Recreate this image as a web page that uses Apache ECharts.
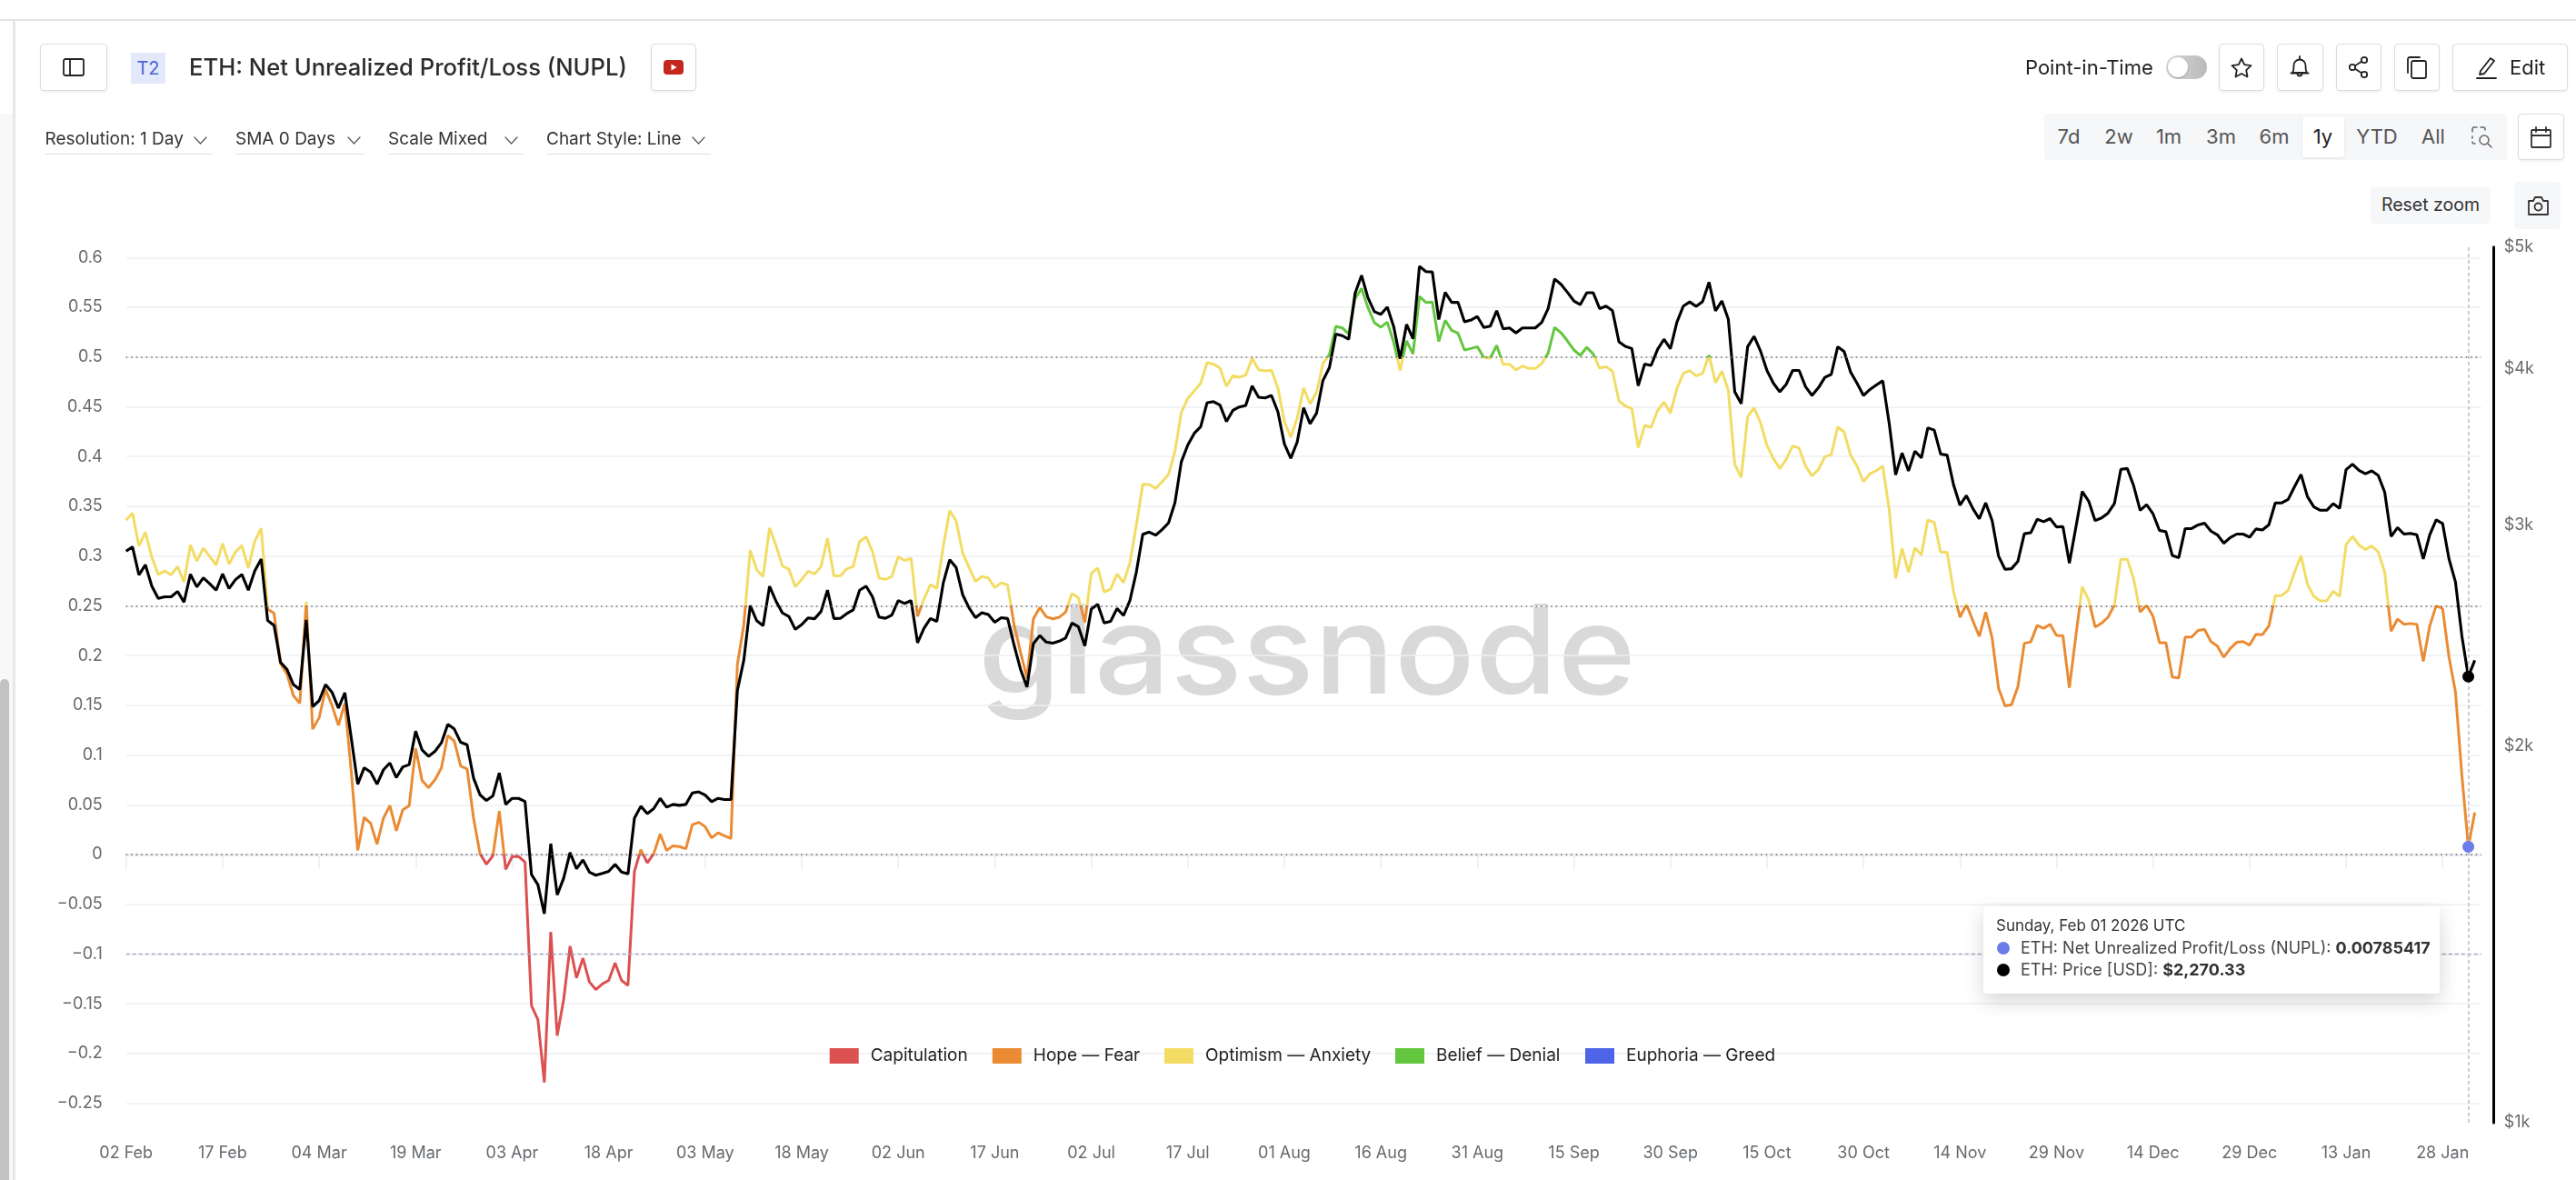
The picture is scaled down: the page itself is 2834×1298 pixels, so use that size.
<!DOCTYPE html>
<html>
<head>
<meta charset="utf-8">
<title>ETH: Net Unrealized Profit/Loss (NUPL)</title>
<script src="https://cdn.jsdelivr.net/npm/echarts@6/dist/echarts.min.js"></script>
<style>
html,body{margin:0;padding:0;background:#fff;width:2834px;height:1298px;overflow:hidden;font-family:Inter,sans-serif}
#chart{position:absolute;left:0;top:0;width:2834px;height:1298px}
.t{position:absolute;white-space:nowrap;transform:translateY(-50%);line-height:1.2}
.b{position:absolute;box-sizing:border-box;background:#fff}
.btn{border:1.5px solid #dcdcdc;border-radius:4px;box-shadow:0 2px 3px rgba(0,0,0,.05)}
svg.i{position:absolute;overflow:visible;fill:none;stroke:#222;stroke-width:1.8;stroke-linecap:round;stroke-linejoin:round}
</style>
</head>
<body>
<div id="chart"></div>
<div id="ui"></div>
<script>
// ---------- data ----------
const startDate = '2025-02-02';
const dayCount = 367; // 366 daily readings plus one empty day at the right edge

const nuplValues = [
.336,.343,.310,.324,.299,.2815,.285,.281,.2895,.274,
.311,.295,.308,.2996,.291,.3126,.292,.304,.3105,.288,
.315,.328,.2466,.2424,.192,.1815,.1597,.152,.254,.126,
.1374,.166,.150,.130,.152,.083,.0042,.0374,.0315,.0105,
.0366,.0492,.024,.045,.049,.1067,.0744,.0672,.0752,.087,
.1197,.114,.089,.086,.0366,.001,-.0097,-.0013,.0437,-.015,
-.002,-.002,-.0076,-.1517,-.166,-.229,-.0777,-.182,-.146,-.092,
-.124,-.104,-.128,-.1357,-.130,-.1265,-.109,-.1265,-.1315,-.017,
.005,-.0084,.0008,.0206,.0042,.0088,.008,.0059,.030,.0324,
.028,.0168,.0218,.0189,.0161,.191,.231,.306,.2862,.2795,
.3283,.3106,.290,.2868,.2692,.2765,.2847,.282,.2893,.318,
.280,.280,.2871,.2896,.3146,.3194,.3045,.278,.2765,.2795,
.2993,.2954,.2978,.2393,.2567,.2713,.2674,.310,.3456,.3353,
.3033,.2887,.2744,.2795,.278,.2683,.2731,.271,.231,.2034,
.1775,.2369,.2482,.239,.2369,.2384,.2436,.2625,.2582,.2333,
.2826,.288,.264,.2667,.282,.2734,.2932,.331,.372,.3718,
.3679,.3746,.382,.405,.4447,.4584,.466,.4736,.4943,.493,
.4888,.4705,.4812,.4797,.4818,.4989,.4873,.486,.4867,.469,
.4355,.4194,.4386,.469,.4529,.4644,.4934,.5025,.5308,.5293,
.5232,.5588,.5689,.5497,.5345,.530,.5351,.5147,.4864,.5162,
.5031,.561,.5549,.5552,.5156,.5369,.5269,.5238,.5071,.5086,
.5104,.4995,.4989,.5117,.4928,.4928,.487,.4909,.4885,.4885,
.4934,.504,.5299,.5244,.5162,.5071,.5016,.5098,.5031,.4888,
.4903,.4858,.4559,.4507,.4483,.409,.4312,.4294,.4461,.4547,
.4437,.4681,.4836,.4864,.4812,.4836,.5019,.4742,.4858,.4665,
.3921,.3792,.4399,.449,.434,.4113,.398,.3879,.3973,.4106,
.4085,.3904,.3806,.3869,.3998,.4019,.4298,.4246,.4015,.3904,
.3747,.3827,.3858,.3904,.3467,.2776,.3076,.2839,.3083,.301,
.3362,.3338,.3038,.3038,.2647,.2385,.2514,.235,.2193,.2437,
.2175,.1669,.1494,.1505,.1686,.2123,.2137,.2304,.2273,.2315,
.2203,.22,.1676,.2193,.2692,.2559,.2287,.2325,.2385,.2507,
.2968,.2968,.2769,.2437,.2507,.2395,.213,.213,.1784,.1774,
.2186,.2186,.2252,.2263,.214,.2095,.1983,.2071,.2133,.214,
.2105,.2214,.221,.2297,.2601,.2605,.2654,.2839,.3003,.2716,
.2594,.2549,.2549,.2647,.2594,.3115,.3198,.3111,.3066,.3101,
.3041,.2839,.2245,.2367,.2315,.2322,.2315,.1941,.2297,.25,
.2472,.1983,.1634,.0796,.00785417,.0422
];

const priceValues = [
2859,2881,2737,2788,2681,2621,2629,2629,2655,2603,
2740,2677,2722,2693,2661,2742,2669,2713,2739,2661,
2757,2818,2517,2494,2331,2301,2237,2217,2520,2148,
2172,2237,2206,2143,2204,2027,1863,1920,1905,1863,
1913,1937,1886,1923,1931,2054,1984,1961,1979,2010,
2080,2062,2012,2003,1884,1827,1808,1823,1902,1795,
1815,1815,1805,1578,1549,1468,1670,1520,1567,1643,
1595,1621,1585,1576,1581,1587,1608,1585,1580,1750,
1789,1765,1781,1815,1786,1795,1792,1795,1833,1837,
1826,1804,1815,1811,1811,2213,2340,2587,2516,2493,
2680,2608,2552,2536,2476,2498,2529,2525,2559,2661,
2526,2527,2549,2566,2661,2681,2629,2533,2527,2542,
2611,2597,2610,2416,2481,2526,2513,2697,2814,2774,
2640,2576,2530,2553,2545,2509,2530,2526,2406,2301,
2227,2412,2448,2419,2414,2423,2437,2505,2488,2402,
2570,2593,2506,2513,2573,2540,2611,2751,2949,2961,
2944,2974,3011,3125,3370,3475,3550,3594,3756,3763,
3739,3628,3703,3726,3737,3873,3793,3789,3806,3693,
3483,3391,3494,3721,3613,3683,3912,4005,4260,4248,
4220,4593,4746,4554,4439,4418,4478,4318,4072,4337,
4224,4826,4779,4776,4376,4600,4516,4516,4358,4372,
4400,4313,4323,4447,4302,4309,4269,4309,4309,4309,
4353,4465,4715,4669,4600,4528,4498,4597,4597,4465,
4485,4447,4200,4165,4149,3875,4032,4022,4142,4220,
4148,4353,4485,4520,4483,4523,4687,4447,4528,4377,
3831,3749,4163,4243,4130,3985,3893,3831,3885,3985,
3985,3868,3806,3860,3935,3957,4163,4125,3974,3893,
3806,3848,3880,3910,3616,3290,3424,3313,3436,3394,
3586,3571,3417,3411,3230,3111,3166,3092,3034,3124,
3024,2832,2765,2768,2806,2952,2957,3032,3018,3035,
2989,2991,2797,2985,3190,3134,3024,3039,3066,3120,
3323,3328,3223,3082,3114,3062,2970,2963,2836,2825,
2980,2980,3000,3010,2966,2946,2901,2931,2950,2950,
2933,2978,2972,3001,3124,3124,3144,3219,3292,3160,
3101,3082,3082,3120,3093,3321,3354,3317,3296,3313,
3286,3187,2937,2985,2950,2954,2946,2818,2946,3028,
3008,2818,2702,2446,2270.33,2339
];

const nuplTicks = [-0.25,-0.2,-0.15,-0.1,-0.05,0,0.05,0.1,0.15,0.2,0.25,0.3,0.35,0.4,0.45,0.5,0.55,0.6];
const priceTicks = [1000,2000,3000,4000,5000];
const zoneNames = ['Capitulation','Hope — Fear','Optimism — Anxiety','Belief — Denial','Euphoria — Greed'];
const zoneColors = ['#DB5050','#EA8B33','#F2DC64','#62C63E','#4D65E6'];
const zoneBreaks = [0,0.25,0.5,0.75];
const dottedLevels = [0.5,0.25,0];
const dashedLevels = [-0.0963];
const hoverDate = '2026-02-01';
const hoverNupl = 0.00785417;
const hoverPrice = 2270.33;

// ---------- chart ----------
const categories = [];
{
  const t0 = Date.parse(startDate + 'T00:00:00Z');
  for (let i = 0; i < dayCount; i++) categories.push(new Date(t0 + i * 864e5).toISOString().slice(0, 10));
}
const MONTHS = ['Jan','Feb','Mar','Apr','May','Jun','Jul','Aug','Sep','Oct','Nov','Dec'];
const dayLabel = s => s.slice(8, 10) + ' ' + MONTHS[+s.slice(5, 7) - 1];

const grey = '#666a6e';
const chart = echarts.init(document.getElementById('chart'), null, {renderer: 'canvas'});
const legendLefts = [912.7, 1091.8, 1281, 1535, 1744];
const option = {
  animation: false,
  grid: {left: 138.7, right: 104.3, top: 271.7, bottom: 63, containLabel: false},
  xAxis: {
    type: 'category', data: categories, boundaryGap: false,
    axisLine: {lineStyle: {color: '#ececf2', width: 3}},
    axisTick: {interval: 14, length: 15, lineStyle: {color: '#ececf2', width: 1.5}},
    axisLabel: {interval: 14, margin: 25, fontFamily: 'Inter', fontSize: 18, color: grey, formatter: dayLabel, hideOverlap: false},
    splitLine: {show: false}
  },
  yAxis: [{
    type: 'value', min: -0.2695, max: 0.6106,
    axisLine: {show: false}, axisTick: {show: false, customValues: nuplTicks},
    axisLabel: {customValues: nuplTicks, margin: 26, fontFamily: 'Inter', fontSize: 18, color: grey,
      formatter: v => String(+(+v).toFixed(2)).replace('-', '\u2212')},
    splitLine: {show: true, lineStyle: {color: '#eeeff4', width: 1.6}}
  }, {
    type: 'log', logBase: 10, min: 1000, max: 5000, position: 'right', offset: 14,
    axisLine: {show: true, onZero: false, lineStyle: {color: '#000', width: 3}},
    axisTick: {show: false},
    axisLabel: {customValues: priceTicks, margin: 11, fontFamily: 'Inter', fontSize: 18, color: grey,
      formatter: v => '$' + Math.round(+v / 1000) + 'k'},
    splitLine: {show: false}
  }],
  visualMap: {
    type: 'piecewise', show: false, seriesIndex: 0, dimension: 1,
    pieces: zoneColors.map((c, i) => {
      const p = {color: c};
      if (i > 0) p.gte = zoneBreaks[i - 1];
      if (i < zoneBreaks.length) p.lt = zoneBreaks[i];
      return p;
    })
  },
  legend: zoneNames.map((n, i) => ({
    data: [n], left: legendLefts[i], top: 1152, itemWidth: 32, itemHeight: 17, icon: 'rect', padding: 0,
    selectedMode: false,
    textStyle: {fontFamily: 'Inter', fontSize: 19, color: '#222', padding: [0, 0, 0, 8]}
  })),
  graphic: [{
    type: 'text', left: 1076, top: 654, z: -1, silent: true, scaleX: 1.08,
    style: {text: 'glassnode', font: '500 136px Inter', fill: '#d9d9d9'}
  }],
  series: [{
    name: 'ETH: Net Unrealized Profit/Loss (NUPL)', type: 'line', yAxisIndex: 0, z: 3,
    data: nuplValues, symbol: 'none', showSymbol: false, smooth: false, lineStyle: {width: 3},
    markLine: {
      silent: true, symbol: 'none', label: {show: false}, animation: false,
      data: dottedLevels.map(v => ({yAxis: v, lineStyle: {color: '#666', type: [1.5, 4], width: 1.5}}))
        .concat(dashedLevels.map(v => ({yAxis: v, lineStyle: {color: '#a4a9bc', type: [4, 3], width: 1.4}})))
    },
    markPoint: {
      silent: true, animation: false, label: {show: false},
      data: [{coord: [hoverDate, hoverNupl], symbol: 'circle', symbolSize: 13, itemStyle: {color: '#6A7DE8'}}]
    }
  }, {
    name: 'ETH: Price [USD]', type: 'line', yAxisIndex: 1, z: 4,
    data: priceValues, symbol: 'none', showSymbol: false, smooth: false,
    lineStyle: {width: 3.1, color: '#000'}, itemStyle: {color: '#000'},
    markLine: {
      silent: true, symbol: 'none', label: {show: false}, animation: false,
      data: [{xAxis: hoverDate, lineStyle: {color: '#bdbdbd', type: [4, 3], width: 1.5}}]
    },
    markPoint: {
      silent: true, animation: false, label: {show: false},
      data: [{coord: [hoverDate, hoverPrice], symbol: 'circle', symbolSize: 13, itemStyle: {color: '#000'}}]
    }
  }].concat(zoneNames.map((n, i) => ({
    name: n, type: 'line', yAxisIndex: 0, data: [], symbol: 'none', itemStyle: {color: zoneColors[i]}, lineStyle: {color: zoneColors[i]}
  })))
};
chart.setOption(option);

// ---------- page chrome around the chart ----------
const ui = document.getElementById('ui');
function box(x, y, w, h, css) {
  const d = document.createElement('div'); d.className = 'b';
  d.style.cssText = `left:${x}px;top:${y}px;width:${w}px;height:${h}px;${css || ''}`;
  ui.appendChild(d); return d;
}
function btn(x, y, w, h) { const d = box(x, y, w, h); d.classList.add('btn'); return d; }
function text(x, y, s, size, color, css) {
  const d = document.createElement('div'); d.className = 't';
  d.style.cssText = `left:${x}px;top:${y}px;font-size:${size}px;color:${color};${css || ''}`;
  d.innerHTML = s; ui.appendChild(d); return d;
}
function icon(cx, cy, w, h, vb, inner, css) {
  const wrap = document.createElementNS('http://www.w3.org/2000/svg', 'svg');
  wrap.setAttribute('class', 'i'); wrap.setAttribute('viewBox', vb);
  wrap.setAttribute('width', w); wrap.setAttribute('height', h);
  wrap.style.cssText = `left:${cx - w / 2}px;top:${cy - h / 2}px;${css || ''}`;
  wrap.innerHTML = inner; ui.appendChild(wrap);
}

// frame
box(0, 21, 2834, 2, 'background:#e4e4e4');
box(0, 125, 14, 1173, 'background:#f8f8f8');
box(14, 22, 3, 1276, 'background:#e8e8e8');
box(0, 747, 10, 551, 'background:#c2c2c2;border-radius:6px 6px 0 0');

// header, left
btn(43.5, 48, 74, 52);
icon(80.5, 74, 24, 20, '0 0 24 20', '<rect x="1" y="1" width="22" height="18" rx="2"/><path d="M8 1v18"/>');
box(144, 58, 38, 34, 'background:#e3e8fb');
text(163, 75, 'T2', 20, '#4d65d8', 'transform:translate(-50%,-50%)');
text(208, 74, 'ETH: Net Unrealized Profit/Loss (NUPL)', 25.6, '#2c2c2c', 'font-weight:500');
btn(715.5, 48, 50, 52);
icon(740.5, 74, 22, 16, '0 0 22 16', '<rect x="0" y="0" width="22" height="16" rx="4" style="fill:#c4281c;stroke:none"/><path d="M8.5 4.5l6 3.5-6 3.5z" style="fill:#fff;stroke:none"/>');

// dropdowns
const chevron = (x, y) => icon(x, y, 15, 9, '0 0 15 9', '<path d="M1 1l6.5 7L14 1"/>', 'stroke:#555;stroke-width:1.2');
[[49.5, 'Resolution: 1 Day', 220, 234], [259, 'SMA 0 Days', 389, 401], [427, 'Scale Mixed', 562, 576], [601, 'Chart Style: Line', 768, 782]].forEach(r => {
  text(r[0], 153, r[1], 19, '#333');
  chevron(r[2], 154);
  box(r[0], 168.5, r[3] - r[0], 1.5, 'background:#dfdfdf');
});

// header, right
text(2228, 74, 'Point-in-Time', 22, '#222');
box(2383, 61, 45, 26, 'background:linear-gradient(90deg,#d8d8d8,#b9b9b9);border-radius:13px');
box(2385, 63, 22, 22, 'background:#fff;border-radius:50%;box-shadow:0 1px 2px rgba(0,0,0,.25)');
btn(2441, 48, 50, 52);
icon(2466, 74, 24, 23, '0 0 24 23', '<path d="M12 1.5l3.2 6.6 7.3 1-5.3 5.1 1.3 7.3L12 18l-6.5 3.5 1.3-7.3L1.5 9.1l7.3-1z"/>');
btn(2505, 48, 50.5, 52);
icon(2530, 74, 22, 26, '0 0 22 26', '<path d="M3 19c1.5-2 1.5-5 1.5-8a6.5 6.5 0 0 1 13 0c0 3 0 6 1.500 8z"/><path d="M1.500 19.500h19M11 1v3M8.500 20a2.500 2.500 0 0 0 5 0"/>');
btn(2569.5, 48, 50, 52);
icon(2594.500, 74, 22, 24, '0 0 22 24', '<circle cx="4" cy="12" r="3.200"/><circle cx="17" cy="4" r="3.200"/><circle cx="17" cy="20" r="3.200"/><path d="M7 10.200l7-4.400M7 13.800l7 4.400"/>');
btn(2633.5, 48, 50, 52);
icon(2658.500, 74, 22, 25, '0 0 22 25', '<rect x="5" y="5" width="16" height="19" rx="2"/><path d="M1 18V3a2 2 0 0 1 2-2h11"/>');
btn(2697.5, 48, 127, 52);
icon(2735, 74, 23, 25, '0 0 23 25', '<path d="M5 16L16 2l4 3L9 19l-5 1zM1 24h21"/>');
text(2761, 74, 'Edit', 22, '#222');

// range bar
box(2249, 125, 509, 51, 'background:#f6f7f9;border-radius:3px');
box(2532.5, 127.5, 46.5, 45, 'background:#fff;border-radius:3px;box-shadow:0 1px 3px rgba(0,0,0,.1)');
[[2276, '7d'], [2331, '2w'], [2386, '1m'], [2443.5, '3m'], [2502, '6m'], [2555.5, '1y'], [2615, 'YTD'], [2677, 'All']].forEach(r => {
  text(r[0], 150, r[1], 22, r[1] === '1y' ? '#222' : '#555', 'transform:translate(-50%,-50%)');
});
icon(2729.5, 151, 24, 24, '0 0 24 24', '<path d="M2 6V3a2 2 0 0 1 2-2h3M11 1h3a2 2 0 0 1 2 2v1M2 11v2M2 17a2 2 0 0 0 2 2h1"/><circle cx="15" cy="15" r="5"/><path d="M19 19l4 4"/>', 'stroke:#666;stroke-width:1.500');
btn(2770, 125, 51, 51);
icon(2795.5, 151, 23, 24, '0 0 23 24', '<rect x="1" y="4" width="21" height="19" rx="1"/><path d="M1 10h21M6 1v5M17 1v5"/>', 'stroke:#333');

// reset zoom / camera
box(2608, 206, 131.5, 40, 'background:#f6f7f9;border-radius:4px');
text(2674, 226, 'Reset zoom', 19.5, '#333', 'transform:translate(-50%,-50%)');
box(2766, 200, 51, 52, 'background:#f6f7f9;border-radius:4px');
icon(2792, 226, 23, 21, '0 0 23 21', '<path d="M1 5h5l2-4h7l2 4h5v15H1z"/><circle cx="11.500" cy="11.500" r="4"/>', 'stroke:#333');

// tooltip
box(2182, 997, 502, 96, 'background:#fff;border-radius:4px;box-shadow:0 8px 22px rgba(0,0,0,.17)');
text(2196, 1018, 'Sunday, Feb 01 2026 UTC', 17, '#333');
box(2196.500, 1036, 14, 14, 'background:#6A7DE8;border-radius:50%');
text(2223, 1043, 'ETH: Net Unrealized Profit/Loss (NUPL): <b style="color:#333">' + hoverNupl + '</b>', 18, '#444');
box(2196.500, 1059.500, 14, 14, 'background:#000;border-radius:50%');
text(2223, 1066.5, 'ETH: Price [USD]: <b style="color:#333">$' + hoverPrice.toLocaleString('en-US') + '</b>', 18, '#444');
</script>
</body>
</html>
